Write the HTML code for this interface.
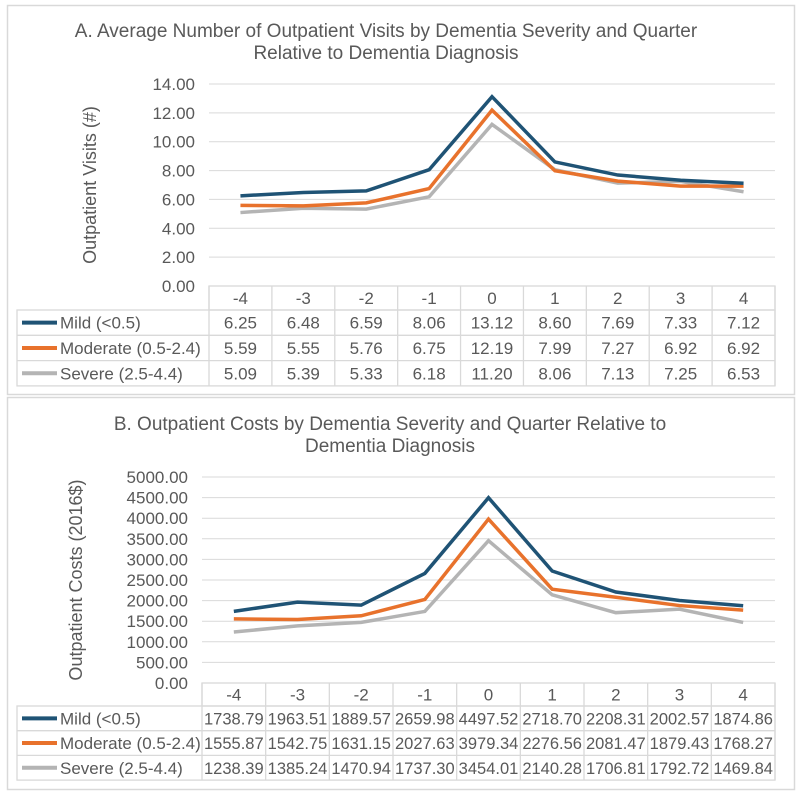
<!DOCTYPE html>
<html><head><meta charset="utf-8"><style>
body{margin:0;background:#fff;width:800px;height:794px;overflow:hidden}
svg{display:block;font-family:"Liberation Sans",sans-serif}
</style></head><body>
<svg id="svg" width="800" height="794"></svg>
<script>
const categories=["-4","-3","-2","-1","0","1","2","3","4"];
const seriesNames=["Mild (<0.5)","Moderate (0.5-2.4)","Severe (2.5-4.4)"];
const colors=["#1f5375","#e8722c","#b4b4b4"];
const visitsMild=[6.25,6.48,6.59,8.06,13.12,8.60,7.69,7.33,7.12];
const visitsModerate=[5.59,5.55,5.76,6.75,12.19,7.99,7.27,6.92,6.92];
const visitsSevere=[5.09,5.39,5.33,6.18,11.20,8.06,7.13,7.25,6.53];
const costsMild=[1738.79,1963.51,1889.57,2659.98,4497.52,2718.70,2208.31,2002.57,1874.86];
const costsModerate=[1555.87,1542.75,1631.15,2027.63,3979.34,2276.56,2081.47,1879.43,1768.27];
const costsSevere=[1238.39,1385.24,1470.94,1737.30,3454.01,2140.28,1706.81,1792.72,1469.84];
const visitsTicks=[0,2,4,6,8,10,12,14];
const costsTicks=[0,500,1000,1500,2000,2500,3000,3500,4000,4500,5000];

const svg=document.getElementById('svg');
const NS="http://www.w3.org/2000/svg";
function mk(tag,attrs,parent){const e=document.createElementNS(NS,tag);for(const k in attrs)e.setAttribute(k,attrs[k]);(parent||svg).appendChild(e);return e;}

function drawChart(cfg){
  const g=mk('g',{});
  
  
  const panel=mk('rect',{x:7.5,y:cfg.py+0.5,width:787,height:cfg.ph,fill:'#fff',stroke:'#d9d9d9','stroke-width':1.5},g);
  
  
  cfg.title.forEach((t,i)=>{const tx=mk('text',{x:cfg.tx,y:cfg.ty+i*22,'text-anchor':'middle','font-size':19,fill:'#595959'},g);tx.textContent=t;
    
    });
  const L=cfg.left,R=775,top=cfg.top,bot=cfg.bot,max=cfg.ticks[cfg.ticks.length-1];
  const cw=(R-L)/categories.length;
  const y=v=>bot-(v/max)*(bot-top);
  const x=i=>L+cw*(i+0.5);
  cfg.ticks.forEach(t=>{
    if(t>0){const gl=mk('line',{x1:L,x2:R,y1:y(t),y2:y(t),stroke:'#d9d9d9','stroke-width':1},g);
      
      }
    const tl=mk('text',{x:L-14,y:y(t)+6,'text-anchor':'end','font-size':cfg.tfs,fill:'#595959'},g);
    tl.textContent=t.toFixed(2);
    
    
  });
  const yt=mk('text',{transform:`translate(${cfg.yax},${(top+bot)/2}) rotate(-90)`,'text-anchor':'middle','font-size':18,fill:'#595959'},g);
  yt.textContent=cfg.ytitle;
  
  
  const rh=cfg.rh, tb=mk('g',{},g);
  
  
  const st={stroke:'#d9d9d9','stroke-width':1.3,fill:'none'};
  mk('rect',Object.assign({x:L,y:bot,width:R-L,height:rh[0]},st),tb);
  mk('rect',Object.assign({x:17,y:bot+rh[0],width:R-17,height:rh[1]*3},st),tb);
  for(let i=0;i<=categories.length;i++)mk('line',Object.assign({x1:L+cw*i,x2:L+cw*i,y1:bot,y2:bot+rh[0]+3*rh[1]},st),tb);
  for(let r=1;r<3;r++)mk('line',Object.assign({x1:17,x2:R,y1:bot+rh[0]+r*rh[1],y2:bot+rh[0]+r*rh[1]},st),tb);
  categories.forEach((c,i)=>{const t=mk('text',{x:x(i),y:bot+rh[0]/2+6,'text-anchor':'middle','font-size':17,fill:'#595959'},tb);t.textContent=c;
    
    });
  cfg.series.forEach((s,k)=>{
    const ry=bot+rh[0]+k*rh[1]+rh[1]/2;
    const lk=mk('line',{x1:22,x2:57,y1:ry,y2:ry,stroke:colors[k],'stroke-width':4},tb);
    
    
    const ln=mk('text',{x:60,y:ry+6,'font-size':17,fill:'#595959'},tb);ln.textContent=seriesNames[k];
    
    
    s.forEach((v,i)=>{const t=mk('text',{x:x(i),y:ry+6,'text-anchor':'middle','font-size':cfg.vfs,fill:'#595959'},tb);t.textContent=v.toFixed(2);
      
      });
  });
  for(let k=cfg.series.length-1;k>=0;k--){
    const pts=cfg.series[k].map((v,i)=>x(i)+','+y(v)).join(' ');
    const pl=mk('polyline',{points:pts,fill:'none',stroke:colors[k],'stroke-width':3.5,'stroke-linejoin':'miter'},g);
    
    
  }
}
drawChart({id:'visits-chart',py:5,ph:389,tx:386,ty:37,title:["A. Average Number of Outpatient Visits by Dementia Severity and Quarter","Relative to Dementia Diagnosis"],
  left:209,top:84,bot:286,ticks:visitsTicks,tfs:17,yax:96,ytitle:"Outpatient Visits (#)",rh:[24,25.3],vfs:17,
  series:[visitsMild,visitsModerate,visitsSevere]});
drawChart({id:'costs-chart',py:397,ph:392,tx:390,ty:430,title:["B. Outpatient Costs by Dementia Severity and Quarter Relative to","Dementia Diagnosis"],
  left:202,top:477,bot:683,ticks:costsTicks,tfs:17,yax:82,ytitle:"Outpatient Costs (2016$)",rh:[23,24.7],vfs:16.5,
  series:[costsMild,costsModerate,costsSevere]});
</script>
</body></html>
